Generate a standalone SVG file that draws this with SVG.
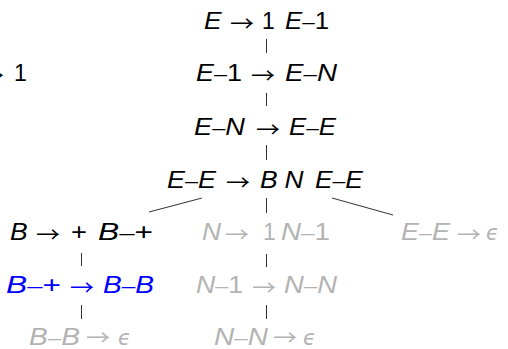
<svg xmlns="http://www.w3.org/2000/svg" width="508" height="349" viewBox="0 0 508 349">
<style>
text{font-family:"Liberation Sans","DejaVu Sans",sans-serif;font-size:23px;fill:#000}
.i{font-style:italic}
.d{font-size:20px}
.a{font-family:"Noto Sans CJK JP","DejaVu Sans",sans-serif;font-size:21px}
.e{font-family:"DejaVu Sans",sans-serif;font-style:oblique;font-size:21px}
.g text{fill:#b3b3b3}
.b text{fill:#0000ff}
.c line{stroke:#333;stroke-width:1}
</style>
<rect width="508" height="349" fill="#fff"/>
<g class="c" id="connectors">
<line x1="266.5" y1="39" x2="266.5" y2="53"/>
<line x1="266.5" y1="93" x2="266.5" y2="106"/>
<line x1="266.5" y1="145" x2="266.5" y2="160"/>
<line x1="266.5" y1="198" x2="266.5" y2="213"/>
<line x1="202" y1="198" x2="149" y2="212"/>
<line x1="332" y1="198" x2="393" y2="215"/>
<line x1="81.5" y1="253" x2="81.5" y2="266"/>
<line x1="81.5" y1="305" x2="81.5" y2="319"/>
<line x1="266.5" y1="254" x2="266.5" y2="267"/>
<line x1="266.5" y1="305" x2="266.5" y2="319"/>
</g>
<g id="n0">
<text class="a" x="-20" y="83" textLength="24" lengthAdjust="spacingAndGlyphs">→</text>
<text x="14" y="81">1</text>
</g>
<g id="n1">
<text class="i" x="204" y="29" textLength="17.6" lengthAdjust="spacingAndGlyphs">E</text>
<text class="a" x="230" y="31" textLength="24" lengthAdjust="spacingAndGlyphs">→</text>
<text x="262" y="29">1</text>
<text x="285" y="29" textLength="44" lengthAdjust="spacingAndGlyphs"><tspan class="i">E</tspan><tspan class="d">–</tspan>1</text>
</g>
<g id="n2">
<text x="196" y="81" textLength="46" lengthAdjust="spacingAndGlyphs"><tspan class="i">E</tspan><tspan class="d">–</tspan>1</text>
<text class="a" x="251" y="83" textLength="24" lengthAdjust="spacingAndGlyphs">→</text>
<text x="285" y="81" textLength="52" lengthAdjust="spacingAndGlyphs"><tspan class="i">E</tspan><tspan class="d">–</tspan><tspan class="i">N</tspan></text>
</g>
<g id="n3">
<text x="194" y="135" textLength="51" lengthAdjust="spacingAndGlyphs"><tspan class="i">E</tspan><tspan class="d">–</tspan><tspan class="i">N</tspan></text>
<text class="a" x="256" y="137" textLength="24" lengthAdjust="spacingAndGlyphs">→</text>
<text x="289" y="135" textLength="47" lengthAdjust="spacingAndGlyphs"><tspan class="i">E</tspan><tspan class="d">–</tspan><tspan class="i">E</tspan></text>
</g>
<g id="n4">
<text x="167" y="188" textLength="49" lengthAdjust="spacingAndGlyphs"><tspan class="i">E</tspan><tspan class="d">–</tspan><tspan class="i">E</tspan></text>
<text class="a" x="226" y="190" textLength="24" lengthAdjust="spacingAndGlyphs">→</text>
<text class="i" x="260" y="188" textLength="17.6" lengthAdjust="spacingAndGlyphs">B</text>
<text class="i" x="284.5" y="188" textLength="19" lengthAdjust="spacingAndGlyphs">N</text>
<text x="315" y="188" textLength="48" lengthAdjust="spacingAndGlyphs"><tspan class="i">E</tspan><tspan class="d">–</tspan><tspan class="i">E</tspan></text>
</g>
<g id="n5">
<text class="i" x="10" y="240" textLength="17.6" lengthAdjust="spacingAndGlyphs">B</text>
<text class="a" x="36" y="242" textLength="24" lengthAdjust="spacingAndGlyphs">→</text>
<text x="71" y="240" textLength="16" lengthAdjust="spacingAndGlyphs">+</text>
<text x="98" y="240" textLength="55" lengthAdjust="spacingAndGlyphs"><tspan class="i">B</tspan><tspan class="d">–</tspan>+</text>
</g>
<g id="n6" class="b">
<text x="6" y="293" textLength="55" lengthAdjust="spacingAndGlyphs"><tspan class="i">B</tspan><tspan class="d">–</tspan>+</text>
<text class="a" x="70" y="295" textLength="24" lengthAdjust="spacingAndGlyphs">→</text>
<text x="103" y="293" textLength="51" lengthAdjust="spacingAndGlyphs"><tspan class="i">B</tspan><tspan class="d">–</tspan><tspan class="i">B</tspan></text>
</g>
<g id="n7" class="g">
<text x="29" y="345" textLength="51" lengthAdjust="spacingAndGlyphs"><tspan class="i">B</tspan><tspan class="d">–</tspan><tspan class="i">B</tspan></text>
<text class="a" x="86" y="345" textLength="24" lengthAdjust="spacingAndGlyphs">→</text>
<text class="e" x="118" y="345">ϵ</text>
</g>
<g id="n8" class="g">
<text class="i" x="202" y="240" textLength="19" lengthAdjust="spacingAndGlyphs">N</text>
<text class="a" x="225" y="242" textLength="24" lengthAdjust="spacingAndGlyphs">→</text>
<text x="263" y="240">1</text>
<text x="281" y="240" textLength="49" lengthAdjust="spacingAndGlyphs"><tspan class="i">N</tspan><tspan class="d">–</tspan>1</text>
</g>
<g id="n9" class="g">
<text x="196" y="293" textLength="47" lengthAdjust="spacingAndGlyphs"><tspan class="i">N</tspan><tspan class="d">–</tspan>1</text>
<text class="a" x="252" y="295" textLength="24" lengthAdjust="spacingAndGlyphs">→</text>
<text x="284" y="293" textLength="53" lengthAdjust="spacingAndGlyphs"><tspan class="i">N</tspan><tspan class="d">–</tspan><tspan class="i">N</tspan></text>
</g>
<g id="n10" class="g">
<text x="214" y="345" textLength="54" lengthAdjust="spacingAndGlyphs"><tspan class="i">N</tspan><tspan class="d">–</tspan><tspan class="i">N</tspan></text>
<text class="a" x="273" y="345" textLength="24" lengthAdjust="spacingAndGlyphs">→</text>
<text class="e" x="303" y="345">ϵ</text>
</g>
<g id="n11" class="g">
<text x="401" y="240" textLength="49" lengthAdjust="spacingAndGlyphs"><tspan class="i">E</tspan><tspan class="d">–</tspan><tspan class="i">E</tspan></text>
<text class="a" x="457" y="242" textLength="24" lengthAdjust="spacingAndGlyphs">→</text>
<text class="e" x="486" y="240">ϵ</text>
</g>
</svg>
